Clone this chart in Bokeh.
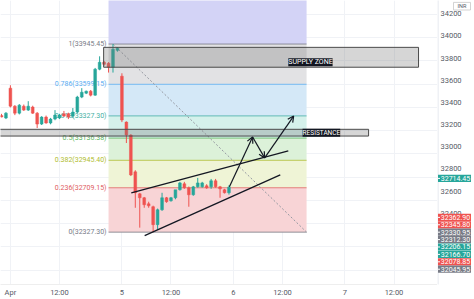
from bokeh.plotting import figure
from bokeh.layouts import row
from bokeh.models import Range1d, FixedTicker, Label, Arrow, OpenHead
from bokeh.embed import file_html
from bokeh.resources import INLINE

# ---------------- data ----------------
bar_index = list(range(52))
opens = [33330, 33309, 33566, 33411, 33351, 33411, 33377, 33403, 33351, 33257,
         33317, 33266, 33300, 33309, 33345, 33345, 33326, 33360, 33489, 33523,
         33540, 33506, 33729, 33789, 33780, 33746, 33891, 33669, 33274, 33163,
         32846, 32657, 32623, 32571, 32546, 32392, 32520, 32623, 32597, 32623,
         32692, 32743, 32709, 32649, 32717, 32717, 32726, 32717, 32769, 32717,
         32692, 32666]
highs = [33345, 33360, 33591, 33420, 33429, 33425, 33454, 33415, 33360, 33325,
         33330, 33310, 33377, 33345, 33370, 33355, 33395, 33500, 33566, 33545,
         33550, 33740, 33840, 33800, 33790, 33945.45, 33920, 33694, 33280, 33170,
         32860, 32665, 32630, 32589, 32555, 32530, 32666, 32630, 32630, 32650,
         32760, 32760, 32720, 32725, 32794, 32760, 32740, 32785, 32785, 32725,
         32700, 32730]
lows = [33315, 33300, 33400, 33334, 33340, 33370, 33370, 33345, 33223, 33249,
        33260, 33255, 33290, 33300, 33320, 33300, 33310, 33350, 33480, 33515,
        33495, 33500, 33720, 33760, 33700, 33700, 33880, 33274, 33094, 32810,
        32537, 32366, 32537, 32537, 32327.30, 32349, 32510, 32580, 32590, 32610,
        32685, 32700, 32546, 32640, 32710, 32710, 32700, 32700, 32710, 32623,
        32660, 32650]
closes = [33318, 33351, 33411, 33351, 33420, 33377, 33411, 33351, 33257, 33317,
          33266, 33300, 33334, 33334, 33326, 33317, 33360, 33489, 33531, 33540,
          33506, 33729, 33789, 33771, 33746, 33900, 33909, 33292, 33163, 32820,
          32666, 32623, 32563, 32554, 32392, 32520, 32623, 32589, 32623, 32692,
          32751, 32709, 32649, 32717, 32751, 32751, 32709, 32769, 32717, 32700,
          32666, 32714.45]

x_tick_positions = [2, 13, 27, 38, 52, 63, 77, 88]
x_tick_labels = ["Apr", "12:00", "5", "12:00", "6", "12:00", "7", "12:00"]
y_ticks = [32000, 32200, 32400, 32600, 32800, 33000, 33200, 33400, 33600, 33800, 34000, 34200]
currency = "INR"

fib_ratios = ["0", "0.236", "0.382", "0.5", "0.618", "0.786", "1"]
fib_prices = [32327.30, 32709.15, 32945.40, 33136.38, 33327.30, 33599.15, 33945.45]
fib_line_colors = ["#787b86", "#e0605f", "#b0bd30", "#5cb860", "#45b0a5", "#5aaef2", "#787b86"]
fib_band_colors = ["#f8d4d6", "#eff4d6", "#dcf1d9", "#d5f1eb", "#d4e8f7", "#e2e2e4", "#d3d3f6"]
fib_x = [24.0, 68.4]
fib_top = 34400

supply_zone = dict(left=22.9, right=93.5, top=33917, bottom=33746)
resistance = dict(left=-5, right=82.3, top=33212, bottom=33154)
supply_label_x = 64.3
resistance_label_x = 67.5

upper_line_x = [29.1, 64.3]
upper_line_y = [32666, 33026]
lower_line_x = [32.1, 62.5]
lower_line_y = [32297, 32820]
arrow_x = [51.1, 56.3, 59.0, 65.5]
arrow_y = [32717, 33146, 32966, 33326]

badge_prices = [32714.45, 32362.90, 32345.80, 32330.95, 32312.30, 32206.15, 32166.70, 32078.85, 32045.95]
badge_colors = ["#26a69a", "#ef5350", "#ef5350", "#787b86", "#787b86", "#26a69a", "#26a69a", "#ef5350", "#787b86"]

# ---------------- figures ----------------
X0, X1 = -0.22, 97.75
Y0, Y1 = 31877, 34320
FRAME_H = 285
FONT = "Roboto"
yr = Range1d(Y0, Y1)
px_per_unit = FRAME_H / (Y1 - Y0)

p = figure(width=437, height=299, x_range=Range1d(X0, X1), y_range=yr,
           output_backend="svg", toolbar_location=None, y_axis_location=None,
           min_border_left=0, min_border_top=0, min_border_right=0, min_border_bottom=14)
p.outline_line_color = None
p.background_fill_color = "white"

bx = p.xaxis[0]
bx.ticker = FixedTicker(ticks=x_tick_positions)
bx.major_label_overrides = {t: l for t, l in zip(x_tick_positions, x_tick_labels)}
bx.major_label_text_font = FONT
bx.major_label_text_font_size = "7.5px"
bx.major_label_text_color = "#555a66"
bx.major_tick_out = 0
bx.major_tick_in = 0
bx.minor_tick_out = 0
bx.minor_tick_in = 0
bx.major_label_standoff = 3
bx.axis_line_color = "#eeeeee"

p.xgrid.ticker = FixedTicker(ticks=x_tick_positions)
p.ygrid.ticker = FixedTicker(ticks=y_ticks)
p.xgrid.grid_line_color = "#f0f2f6"
p.ygrid.grid_line_color = "#f0f2f6"

# fib bands
band_bottoms = fib_prices
band_tops = fib_prices[1:] + [fib_top]
p.quad(left=fib_x[0], right=fib_x[1], bottom=band_bottoms, top=band_tops,
       fill_color=fib_band_colors, line_color=None)
p.segment(x0=fib_x[0], x1=fib_x[1], y0=fib_prices, y1=fib_prices,
          line_color=fib_line_colors, line_width=1, line_alpha=0.8)
fib_texts = [f"{r}({v:.2f})" for r, v in zip(fib_ratios, fib_prices)]
p.text(x=fib_x[0], y=fib_prices, text=fib_texts, x_offset=-2,
       text_align="right", text_baseline="middle", text_font_size="7px",
       text_font={"value": FONT}, text_color=fib_line_colors)
p.line(x=[fib_x[0] + 1.0, fib_x[1]], y=[fib_prices[-1], fib_prices[0]],
       line_color="#9598a1", line_dash="2 2", line_width=1)

# candles
colors = ["#26a69a" if c >= o else "#ef5350" for o, c in zip(opens, closes)]
p.segment(x0=bar_index, x1=bar_index, y0=lows, y1=highs, line_color=colors, line_width=1)
body_top = [max(o, c) for o, c in zip(opens, closes)]
body_bot = [min(o, c) for o, c in zip(opens, closes)]
p.vbar(x=bar_index, width=0.62, top=body_top, bottom=body_bot, fill_color=colors,
       line_color=colors, line_width=0.5)

# zones
for z in (supply_zone, resistance):
    p.quad(left=z["left"], right=z["right"], top=z["top"], bottom=z["bottom"],
           fill_color="#787878", fill_alpha=0.3, line_color="#4a4a4a", line_width=1)

p.add_layout(Label(x=supply_label_x, y=supply_zone["bottom"], text="SUPPLY ZONE",
                   text_align="left", text_baseline="bottom", text_font=FONT,
                   text_font_size="7px", text_color="white",
                   background_fill_color="#131722", y_offset=1))
p.add_layout(Label(x=resistance_label_x, y=(resistance["top"] + resistance["bottom"]) / 2,
                   text="RESISTANCE", text_align="left", text_baseline="middle",
                   text_font=FONT, text_font_size="6.5px", text_color="white",
                   background_fill_color="#131722"))

# trend lines
p.line(x=upper_line_x, y=upper_line_y, line_color="#131722", line_width=1.3)
p.line(x=lower_line_x, y=lower_line_y, line_color="#131722", line_width=1.3)
for i in range(len(arrow_x) - 1):
    p.add_layout(Arrow(end=OpenHead(size=6, line_width=1.2, line_color="#131722"),
                       x_start=arrow_x[i], y_start=arrow_y[i],
                       x_end=arrow_x[i + 1], y_end=arrow_y[i + 1],
                       line_color="#131722", line_width=1.2))

# ---------------- price scale panel ----------------
PW = 37
# same scale as the chart, but extended over the bottom axis strip
q_range = Range1d(Y1 - 299 / px_per_unit, Y1)
q = figure(width=PW, height=299, x_range=Range1d(0, PW), y_range=q_range,
           output_backend="svg", toolbar_location=None,
           x_axis_location=None, y_axis_location=None,
           min_border_left=0, min_border_top=0, min_border_right=0, min_border_bottom=0)
q.outline_line_color = None
q.xgrid.visible = False
q.ygrid.visible = False
q.background_fill_color = "white"
q.border_fill_color = "white"

# separator
q.segment(x0=0.5, x1=0.5, y0=Y0 - 500, y1=Y1 + 500, line_color="#e0e3eb", line_width=1)
# tick labels
q.text(x=3, y=y_ticks, text=[str(t) for t in y_ticks], text_align="left",
       text_baseline="middle", text_font_size="7.5px", text_font={"value": FONT},
       text_color="#555a66")

# stacked badges
badge_h = 7.6 / px_per_unit
spacing = 7.8 / px_per_unit
badge_y = []
prev = None
for k, pr in enumerate(badge_prices):
    yy = pr if k <= 1 else min(pr, prev - spacing)
    badge_y.append(yy)
    prev = yy
q.quad(left=0.5, right=33.5, bottom=[y - badge_h / 2 for y in badge_y],
       top=[y + badge_h / 2 for y in badge_y], fill_color=badge_colors, line_color=None)
q.segment(x0=0.5, x1=2.5, y0=badge_y, y1=badge_y, line_color="white", line_width=1)
q.text(x=18, y=badge_y, text=[f"{v:.2f}" for v in badge_prices], text_align="center",
       text_baseline="middle", text_font_size="7px", text_font={"value": FONT},
       text_color="white")

# currency box
cur_top = Y1 - 2 / px_per_unit
cur_bot = Y1 - 10 / px_per_unit
q.quad(left=16, right=33, top=cur_top, bottom=cur_bot, fill_color="white",
       line_color="#c8c8c8", line_width=0.8)
q.text(x=24.5, y=(cur_top + cur_bot) / 2, text=[currency], text_align="center",
       text_baseline="middle", text_font_size="5.5px", text_font={"value": FONT},
       text_color="#555a66")

layout = row(p, q)
open("out.html", "w").write(file_html(layout, INLINE))
